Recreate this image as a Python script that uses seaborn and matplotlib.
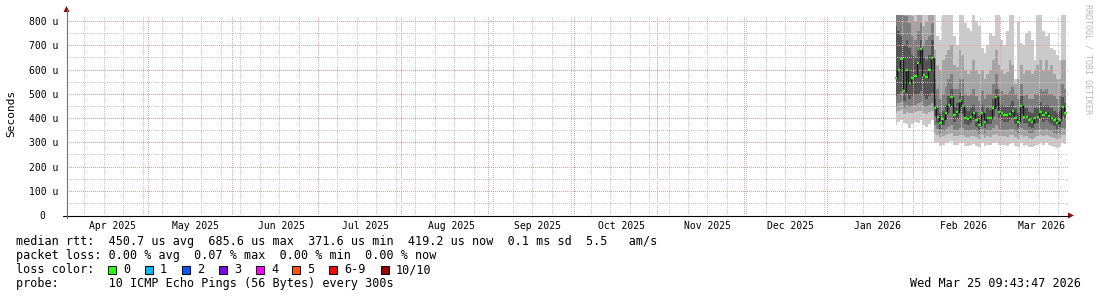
import numpy as np
import pandas as pd
import matplotlib
matplotlib.use("Agg")
import matplotlib.pyplot as plt
import matplotlib.dates as mdates
from matplotlib.lines import Line2D
from matplotlib.patches import Rectangle, Polygon
import seaborn as sns

# ---------------- data ----------------
start_time = "2026-01-22 18:00"
n_points = 62

median = [565, 600, 645, 510, 600, 545, 565, 575, 625, 686, 578, 570, 600, 647,
          440, 405, 380, 395, 420, 455, 486, 412, 425, 470, 450, 400, 395, 405, 420, 390,
          372, 420, 385, 400, 400, 440, 485, 425, 420, 412, 412, 418, 430, 400, 385, 450,
          405, 404, 390, 385, 400, 404, 425, 412, 420, 410, 400, 392, 380, 390, 445, 420]

p1 = [370, 385, 390, 380, 375, 360, 375, 385, 380, 390, 370, 365, 375, 390,
      300, 295, 285, 290, 295, 300, 305, 290, 288, 295, 295, 285, 285, 290, 292, 285,
      280, 295, 283, 290, 288, 295, 300, 290, 290, 288, 285, 292, 295, 285, 280, 295,
      286, 290, 282, 280, 285, 290, 295, 290, 295, 290, 285, 282, 278, 280, 295, 292]
p2 = [420, 430, 435, 415, 425, 420, 420, 425, 430, 430, 420, 415, 425, 430,
      340, 330, 320, 325, 330, 335, 340, 325, 325, 330, 330, 320, 320, 325, 325, 320,
      315, 330, 318, 325, 320, 330, 335, 325, 325, 325, 322, 328, 330, 320, 315, 330,
      322, 325, 318, 315, 320, 325, 330, 325, 330, 325, 320, 318, 312, 316, 330, 328]
p3 = [450, 460, 465, 440, 455, 445, 450, 455, 460, 465, 450, 445, 455, 460,
      370, 355, 340, 345, 355, 365, 370, 350, 350, 360, 360, 345, 345, 350, 350, 345,
      335, 355, 340, 350, 345, 360, 370, 355, 350, 350, 350, 355, 355, 345, 340, 360,
      350, 350, 340, 340, 345, 350, 355, 350, 355, 350, 345, 340, 335, 340, 360, 355]
p4 = [490, 500, 510, 470, 500, 480, 490, 495, 500, 510, 490, 480, 490, 505,
      410, 380, 355, 370, 390, 420, 450, 385, 395, 430, 415, 375, 370, 380, 390, 365,
      350, 390, 360, 375, 375, 410, 445, 395, 390, 385, 385, 390, 400, 375, 360, 415,
      380, 380, 365, 360, 375, 380, 395, 385, 390, 385, 375, 368, 355, 365, 410, 395]
p7 = [780, 760, 740, 700, 720, 690, 660, 650, 680, 720, 650, 640, 660, 720,
      480, 440, 420, 430, 455, 490, 520, 445, 460, 505, 490, 440, 430, 440, 455, 425,
      410, 455, 420, 440, 435, 480, 520, 460, 455, 450, 445, 455, 470, 440, 420, 490,
      440, 440, 425, 420, 440, 440, 465, 450, 455, 450, 440, 430, 420, 430, 485, 460]
p8 = [900, 880, 860, 820, 820, 790, 740, 720, 760, 790, 700, 720, 740, 790,
      560, 520, 480, 500, 530, 560, 580, 520, 520, 560, 560, 500, 490, 500, 520, 490,
      470, 510, 480, 500, 500, 540, 580, 520, 510, 500, 500, 510, 530, 500, 480, 540,
      490, 500, 480, 480, 500, 500, 520, 510, 520, 500, 500, 490, 480, 490, 540, 520]
p9 = [900, 900, 900, 900, 900, 900, 820, 800, 830, 900, 780, 800, 830, 900,
      680, 620, 600, 640, 660, 680, 700, 620, 610, 680, 660, 600, 580, 600, 640, 600,
      580, 600, 560, 580, 600, 640, 680, 620, 600, 580, 590, 640, 620, 540, 560, 620,
      580, 600, 600, 580, 600, 620, 640, 600, 640, 600, 620, 580, 560, 560, 640, 640]
p10 = [900, 900, 900, 900, 900, 900, 900, 900, 900, 900, 900, 900, 900, 900,
       900, 740, 720, 830, 900, 900, 900, 740, 700, 900, 900, 790, 770, 760, 830, 800,
       780, 690, 670, 700, 750, 740, 900, 900, 720, 700, 760, 900, 900, 560, 800, 710,
       700, 750, 760, 720, 640, 900, 900, 760, 740, 750, 690, 680, 660, 640, 900, 900]

y_ticks = [0, 100, 200, 300, 400, 500, 600, 700, 800]
y_tick_labels = ["0  ", "100 u", "200 u", "300 u", "400 u", "500 u", "600 u", "700 u", "800 u"]
month_starts = ["2025-04-01", "2025-05-01", "2025-06-01", "2025-07-01", "2025-08-01",
                "2025-09-01", "2025-10-01", "2025-11-01", "2025-12-01", "2026-01-01",
                "2026-02-01", "2026-03-01"]
month_labels = ["Apr 2025", "May 2025", "Jun 2025", "Jul 2025", "Aug 2025", "Sep 2025",
                "Oct 2025", "Nov 2025", "Dec 2025", "Jan 2026", "Feb 2026", "Mar 2026"]

loss_labels = ["0", "1", "2", "3", "4", "5", "6-9", "10/10"]
loss_colors = ["#26ff00", "#00b8ff", "#0059ff", "#7e00ff", "#ff00ff", "#ff5500", "#ff0000", "#a10000"]

legend_rows = [
    "median rtt:  450.7 us avg  685.6 us max  371.6 us min  419.2 us now  0.1 ms sd  5.5   am/s",
    "packet loss: 0.00 % avg  0.07 % max  0.00 % min  0.00 % now",
    "loss color:",
    "probe:       10 ICMP Echo Pings (56 Bytes) every 300s",
]
timestamp = "Wed Mar 25 09:43:47 2026"

# ---------------- figure ----------------
W, H = 1097, 297
sns.set_theme(style="white")
plt.rcParams["font.family"] = ["DejaVu Sans Mono", "DejaVu Sans"]
plt.rcParams["lines.scale_dashes"] = False

fig = plt.figure(figsize=(W / 100, H / 100), dpi=100, facecolor="white")


def fx(px):
    return px / W


def fy(py):
    return 1 - py / H


ax = fig.add_axes([fx(67), fy(215), 1002 / W, 200 / H])
ax.set_facecolor("white")

df = pd.DataFrame({
    "time": pd.date_range(start_time, periods=n_points, freq="D"),
    "median": median, "p1": p1, "p2": p2, "p3": p3, "p4": p4,
    "p7": p7, "p8": p8, "p9": p9, "p10": p10,
})

layers = [("p1", "p10", "#cacaca"), ("p2", "p9", "#a4a4a4"),
          ("p3", "p8", "#7e7e7e"), ("p4", "p7", "#555555")]
for lo, hi, c in layers:
    ax.fill_between(df["time"], df[lo], df[hi], step="mid", color=c, lw=0, zorder=2)

sns.lineplot(data=df, x="time", y="median", drawstyle="steps-mid", color="#1a1a1a",
             lw=1.0, ax=ax, zorder=5)
xn = mdates.date2num(df["time"])
ax.hlines(df["median"], xn - 0.42, xn + 0.42, colors=loss_colors[0], lw=1.7, zorder=6)

t0 = pd.Timestamp("2025-03-30 18:43")
t1 = pd.Timestamp("2026-03-25 22:47")
ax.set_xlim(t0, t1)
ax.set_ylim(0, 825)

# grid (crisp 1px dots, 1 on / 2 off)
dot = (0, (0.72, 1.44))
gkw = dict(lw=0.5, ls=dot, zorder=3, antialiased=False)
weeks = pd.date_range("2025-04-06", "2026-03-25", freq="W-SUN")
for w in weeks:
    ax.axvline(w, color="#c8c8c8", **gkw)
majors = [pd.Timestamp(m) + pd.Timedelta(days=28) for m in month_starts[:-1]]
for m in majors:
    ax.axvline(m, color="#eaa0a0", **gkw)
for yv in range(50, 825, 50):
    ax.axhline(yv, color="#eaa0a0" if yv % 100 == 0 else "#c8c8c8", **gkw)

# ticks
label_pos = [pd.Timestamp(m) + pd.Timedelta(days=15) for m in month_starts]
ax.set_xticks(label_pos)
ax.set_xticklabels(month_labels, fontsize=7, color="black")
ax.tick_params(axis="x", length=0, pad=4.5)
ax.set_yticks(y_ticks)
ax.set_yticklabels(y_tick_labels, fontsize=7, color="black")
ax.tick_params(axis="y", length=3, color="#eaa0a0", width=0.6, pad=3.5)
ax.set_xlabel("")
ax.set_ylabel("")
for s in ax.spines.values():
    s.set_visible(False)
ax.grid(False)

# axis lines and arrows
fig.add_artist(Line2D([fx(63), fx(1069)], [fy(215.5), fy(215.5)], color="black", lw=0.8))
fig.add_artist(Line2D([fx(66.5), fx(66.5)], [fy(218), fy(10)], color="#707070", lw=0.8))
fig.add_artist(Polygon([[fx(1068), fy(212.5)], [fx(1068), fy(218.5)], [fx(1074), fy(215.5)]],
                       closed=True, color="#a00000", lw=0))
fig.add_artist(Polygon([[fx(63.5), fy(12)], [fx(69.5), fy(12)], [fx(66.5), fy(6)]],
                       closed=True, color="#a00000", lw=0))

# texts
fig.text(fx(11), fy(113), "Seconds", rotation=90, ha="center", va="center",
         fontsize=8, color="black")
fig.text(fx(1088), fy(4), "RRDTOOL / TOBI OETIKER", rotation=270, ha="center", va="top",
         fontsize=6, color="#b8b8b8")

baselines = [245.3, 259.3, 273.3, 287.3]
for txt, b in zip(legend_rows, baselines):
    fig.text(fx(16), fy(b), txt, ha="left", va="baseline", fontsize=8.45, color="black")
fig.text(fx(1080.5), fy(baselines[3]), timestamp, ha="right", va="baseline",
         fontsize=8.45, color="black")

box_x = [108, 145, 182, 219, 256, 292, 329, 381]
for bx, lab, col in zip(box_x, loss_labels, loss_colors):
    fig.add_artist(Rectangle((fx(bx), fy(273.5)), 8 / W, 8 / H, facecolor=col,
                             edgecolor="black", lw=0.7))
    fig.text(fx(bx + 15), fy(baselines[2]), lab, ha="left", va="baseline",
             fontsize=8.45, color="black")

fig.savefig("out.png", dpi=100, facecolor="white")
